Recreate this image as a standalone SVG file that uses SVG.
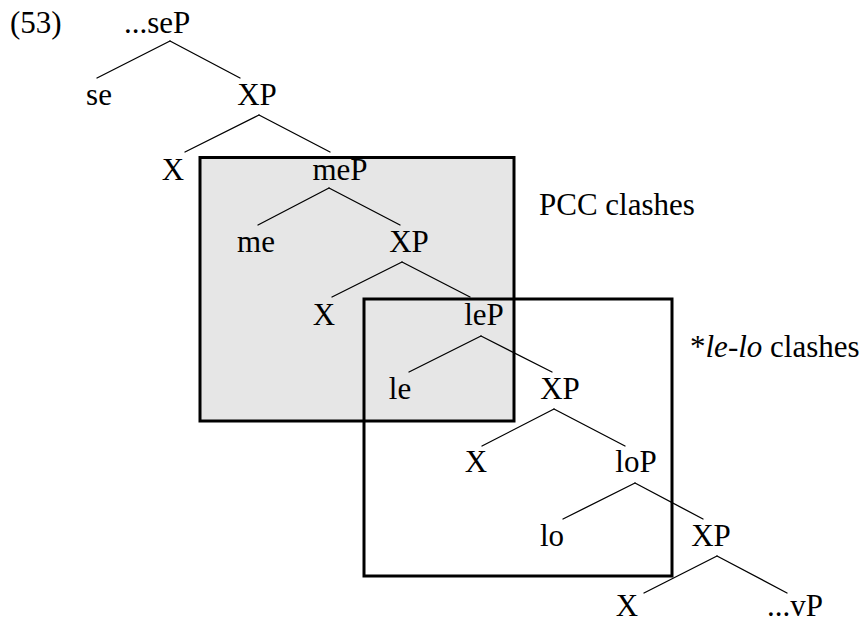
<svg xmlns="http://www.w3.org/2000/svg" width="868" height="623" viewBox="0 0 868 623">
<style>
text { font-family: "Liberation Serif", "Times New Roman", serif; font-size: 31px; fill: #000; }
.m { text-anchor: middle; }
.edge { stroke: #000; stroke-width: 1.3; fill: none; stroke-linecap: round; }
.box { stroke: #000; stroke-width: 3; }
</style>
<rect width="868" height="623" fill="#fff"/>
<g id="boxes">
<rect id="pcc-box" class="box" x="200" y="157.5" width="314" height="263.5" fill="#e6e6e6"/>
<rect id="lelo-box" class="box" x="364" y="299" width="308" height="277" fill="none"/>
</g>
<g id="connectors">
<line class="edge" x1="170" y1="41" x2="97" y2="78"/>
<line class="edge" x1="170" y1="41" x2="240" y2="78"/>
<line class="edge" x1="259" y1="115" x2="185" y2="152"/>
<line class="edge" x1="259" y1="115" x2="330" y2="152"/>
<line class="edge" x1="329" y1="188" x2="258" y2="225"/>
<line class="edge" x1="329" y1="188" x2="400" y2="225"/>
<line class="edge" x1="402" y1="262" x2="332" y2="297"/>
<line class="edge" x1="402" y1="262" x2="470" y2="297"/>
<line class="edge" x1="481" y1="336" x2="409" y2="372"/>
<line class="edge" x1="481" y1="336" x2="552" y2="372"/>
<line class="edge" x1="554" y1="409" x2="482" y2="446"/>
<line class="edge" x1="554" y1="409" x2="625" y2="446"/>
<line class="edge" x1="635" y1="483" x2="563" y2="519"/>
<line class="edge" x1="635" y1="483" x2="703" y2="519"/>
<line class="edge" x1="717" y1="556" x2="644" y2="593"/>
<line class="edge" x1="717" y1="556" x2="787" y2="593"/>
</g>
<g id="label-53"><text x="10" y="33">(53)</text></g>
<g id="seP"><text x="124" y="33">...seP</text></g>
<g id="se"><text class="m" x="99" y="105">se</text></g>
<g id="XP1"><text class="m" x="257" y="105">XP</text></g>
<g id="X1"><text class="m" x="173" y="180">X</text></g>
<g id="meP"><text class="m" x="340" y="180">meP</text></g>
<g id="me"><text class="m" x="256" y="252">me</text></g>
<g id="XP2"><text class="m" x="409" y="252">XP</text></g>
<g id="X2"><text class="m" x="324" y="325">X</text></g>
<g id="leP"><text class="m" x="484" y="325">leP</text></g>
<g id="le"><text class="m" x="400" y="399">le</text></g>
<g id="XP3"><text class="m" x="560" y="399">XP</text></g>
<g id="X3"><text class="m" x="476" y="472">X</text></g>
<g id="loP"><text class="m" x="636" y="472">loP</text></g>
<g id="lo"><text class="m" x="552" y="546">lo</text></g>
<g id="XP4"><text class="m" x="711" y="546">XP</text></g>
<g id="X4"><text class="m" x="627" y="616">X</text></g>
<g id="vP"><text x="767" y="616">...vP</text></g>
<g id="pcc-label"><text x="539" y="215">PCC clashes</text></g>
<g id="lelo-label"><text x="690" y="357">*<tspan font-style="italic">le</tspan>-<tspan font-style="italic">lo</tspan> clashes</text></g>
</svg>
